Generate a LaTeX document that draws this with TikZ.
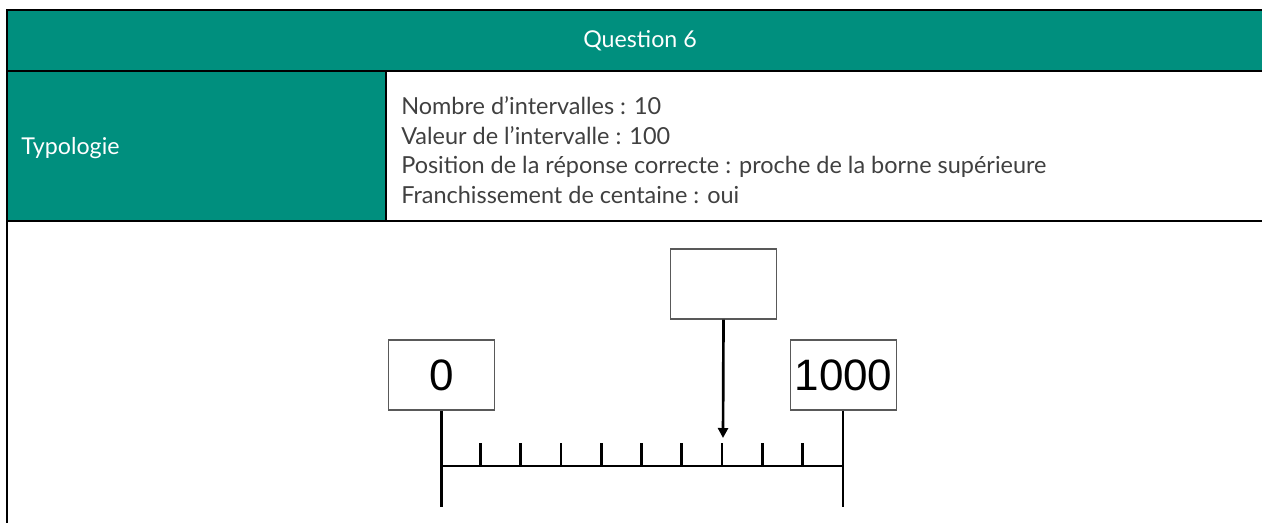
\documentclass[tikz,border=0pt]{standalone}
\usepackage{fontspec}
\setmainfont{Lato}
\newfontfamily\numfont{Liberation Sans}
\usetikzlibrary{arrows.meta,positioning}
\definecolor{myteal}{RGB}{0,143,126}
\definecolor{mygray}{RGB}{64,64,64}

\begin{document}
\begin{tikzpicture}[x=0.75pt, y=-0.75pt,
    rule/.style={line width=1.6pt},
    head/.style={text=white, inner sep=0pt, font=\fontsize{17.4}{20}\selectfont},
    info/.style={text=mygray, align=left, inner sep=0pt, font=\fontsize{17.6}{22.1}\selectfont},
    numbox/.style={draw=black!65, line width=0.8pt, minimum width=79pt, minimum height=52.5pt,
                   inner sep=0pt, font=\numfont\fontsize{33}{33}\selectfont},
    axis/.style={line width=2.2pt},
    tickline/.style={line width=2pt},
    arr/.style={-{Triangle[length=7.5pt, width=7.5pt]}, line width=2pt}]
\useasboundingbox (0,0) rectangle (1262,522);
\fill[myteal] (7,10) rectangle (1280,71);
\fill[myteal] (7,71) rectangle (386,221);
\draw[rule] (1280,10) -- (7,10) -- (7,530);
\draw[rule] (7,71) -- (1280,71);
\draw[rule] (7,221) -- (1280,221);
\draw[rule] (386,71) -- (386,221);
\node[head] (title) at (640,41) {Question 6};
\node[head, anchor=west] (typo) at (21,148) {Typologie};
\node[info, anchor=west] (crit) at (401,150) {Nombre d’intervalles : 10\\
    Valeur de l’intervalle : 100\\
    Position de la réponse correcte : proche de la borne supérieure\\
    Franchissement de centaine : oui};
\node[numbox] (b0) at (441.5,375) {0};
\node[numbox] (b1000) at (843.5,375) {1000};
\node[numbox, minimum width=80pt] (bq) at (723.5,284) {};
\coordinate (z) at (440,466);
\coordinate (m) at (843,466);
\coordinate (tip) at (723,438);
\draw[axis] (z) -- (m);
\draw[axis] (b0.south) -- ++(0,96);
\draw[axis] (b1000.south -| m) -- ++(0,96);
\foreach \k in {1,...,9}
    \draw[tickline] (440+\k*40.3,466) -- ++(0,-23);
\draw[arr] (bq.south) -- (tip);
\end{tikzpicture}
\end{document}
